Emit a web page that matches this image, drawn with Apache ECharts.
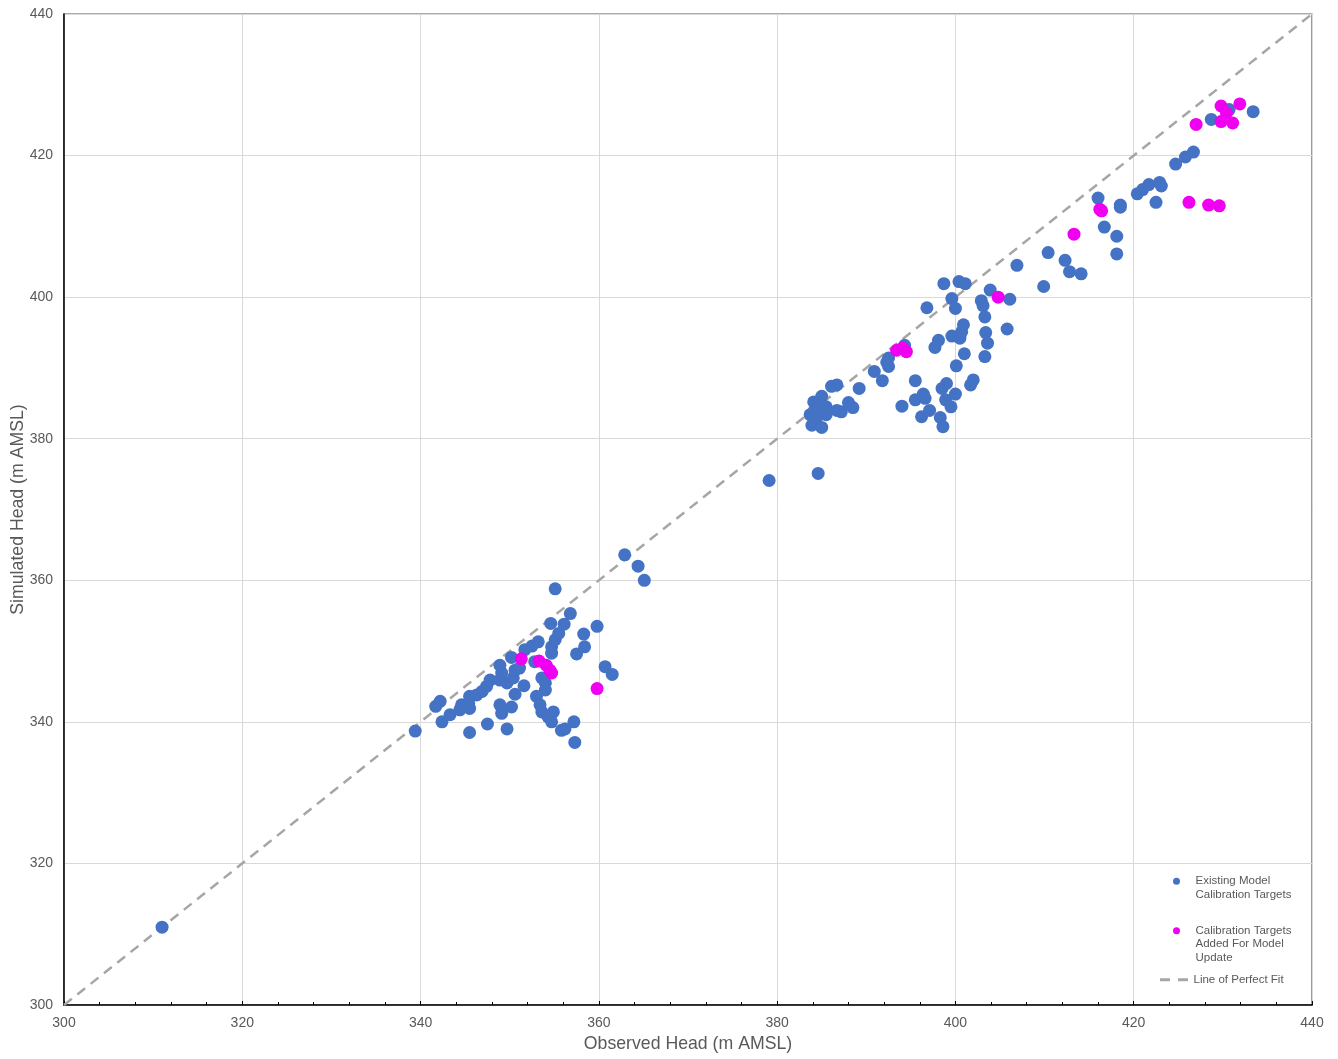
<!DOCTYPE html>
<html><head><meta charset="utf-8">
<script src="https://cdn.jsdelivr.net/npm/echarts@6/dist/echarts.min.js"></script>
<style>html,body{margin:0;padding:0;background:#fff}#c{width:1338px;height:1059px}</style>
</head><body><div id="c"></div>
<script>
const axisTicks = [300, 320, 340, 360, 380, 400, 420, 440];
const existingObs = [311.0,339.4,341.7,342.2,342.4,343.3,344.4,344.6,345.4,345.5,345.5,345.5,346.3,346.9,347.4,347.5,347.8,348.9,348.9,349.1,348.9,349.1,349.7,349.7,350.2,350.2,350.4,350.6,350.6,351.1,351.6,351.7,352.5,352.8,353.2,353.6,354.0,354.0,353.0,353.4,353.6,354.3,354.9,354.7,354.7,354.7,355.1,355.5,354.6,356.1,356.8,355.1,355.8,356.2,357.2,357.3,357.5,358.4,358.3,359.8,360.7,361.5,362.9,364.4,365.1,379.1,384.6,383.7,383.9,384.1,384.1,384.4,384.8,385.0,385.0,385.5,385.5,386.1,386.7,386.7,387.2,388.0,388.5,389.2,390.9,391.8,392.3,392.5,392.5,394.3,394.0,395.5,395.5,396.2,396.4,396.6,396.8,397.1,397.7,398.1,398.3,398.5,398.6,398.7,398.9,399.0,399.5,399.6,399.6,400.0,400.0,400.1,400.4,400.5,400.7,400.9,401.0,401.1,401.7,402.0,402.9,403.1,403.3,403.3,403.4,403.6,403.9,405.8,406.1,406.9,409.9,410.4,412.3,412.8,414.1,416.0,416.7,418.1,418.1,418.5,418.5,420.4,421.0,421.7,422.9,423.1,422.5,424.7,425.8,426.7,428.7,430.7,433.4];
const existingSim = [311.0,338.7,342.2,342.9,340.0,341.0,341.7,342.4,342.6,341.9,343.6,338.5,343.8,344.3,345.0,339.7,345.9,345.9,348.0,346.9,342.4,341.2,345.5,339.0,349.1,342.1,346.2,347.3,343.9,347.6,345.1,350.2,350.7,348.5,351.3,346.2,345.5,344.5,343.6,342.4,341.4,340.7,341.4,340.0,349.7,350.6,351.6,352.5,353.9,353.8,355.3,358.8,338.8,339.0,340.0,337.1,349.6,350.6,352.4,353.5,347.8,346.7,363.6,362.0,360.0,374.1,375.1,383.4,381.9,385.2,383.8,382.9,384.5,386.0,381.6,384.5,383.4,387.4,387.6,384.0,383.8,385.1,384.4,387.1,389.5,388.2,390.8,391.4,390.2,393.2,384.6,388.2,385.5,383.1,386.3,385.7,398.5,384.0,392.9,393.9,383.0,387.1,381.7,401.9,385.5,387.8,384.5,394.5,399.8,398.4,386.3,390.3,402.2,394.2,395.1,396.1,392.0,401.9,387.6,388.3,399.5,398.8,397.2,391.6,395.0,393.5,401.0,395.5,399.7,404.5,401.5,406.3,405.2,403.6,403.3,414.0,409.9,408.6,406.1,413.0,412.7,414.6,415.2,415.9,416.2,415.7,413.4,418.8,419.8,420.5,425.1,426.5,426.2];
const addedObs = [351.3,353.3,354.1,354.5,354.7,359.8,393.4,394.1,394.5,404.8,413.3,416.2,416.4,426.2,428.4,429.6,427.0,429.8,430.4,429.8,431.1,431.9];
const addedSim = [348.9,348.6,348.0,347.3,346.9,344.7,392.5,392.8,392.3,400.0,408.9,412.4,412.2,413.4,413.0,412.9,424.4,427.0,426.0,424.8,424.6,427.3];
const perfectFit = [[300, 300], [440, 440]];
const names = ['Existing Model\nCalibration Targets', 'Calibration Targets\nAdded For Model\nUpdate', 'Line of Perfect Fit'];

const pair = (xs, ys) => xs.map((x, i) => [x, ys[i]]);
const font = '"Liberation Sans", Arial, sans-serif';
const gray = '#595959';
const chart = echarts.init(document.getElementById('c'));
const legendText = { fontFamily: font, fontSize: 11.5, color: gray, lineHeight: 13.5 };
// leading blank lines keep the icon level with the first text line
const padLines = n => name => '\n'.repeat(n) + name;
chart.setOption({
  animation: false,
  backgroundColor: '#fff',
  grid: { left: 64, top: 14, right: 26, bottom: 54, outerBoundsMode: 'none', containLabel: false,
          show: true, borderColor: gray, borderWidth: 1.2 },
  legend: [
    { orient: 'vertical', left: 1173, top: 861, padding: 0, itemWidth: 28, itemHeight: 7,
      data: [{ name: names[0], icon: 'circle' }], formatter: padLines(1), textStyle: legendText },
    { orient: 'vertical', left: 1173, top: 897, padding: 0, itemWidth: 28, itemHeight: 7,
      data: [{ name: names[1], icon: 'circle' }], formatter: padLines(2), textStyle: legendText },
    { orient: 'vertical', left: 1160, top: 973, padding: 0, itemWidth: 29, itemHeight: 3,
      data: [{ name: names[2], icon: 'path://M0,0H10V3H0Z M18,0H28V3H18Z' }], textStyle: legendText }
  ],
  xAxis: {
    type: 'value', min: axisTicks[0], max: axisTicks[axisTicks.length - 1], interval: 20,
    name: 'Observed Head (m AMSL)', nameLocation: 'middle', nameGap: 30, nameMoveOverlap: false,
    nameTextStyle: { fontFamily: font, fontSize: 17.7, color: gray },
    axisLine: { lineStyle: { color: '#000', width: 1.5 } },
    axisTick: { show: true, inside: true, length: 4, lineStyle: { color: '#000' } },
    minorTick: { show: true, splitNumber: 5, length: 3, lineStyle: { color: '#000' } },
    axisLabel: { fontFamily: font, fontSize: 14, color: gray, margin: 11 },
    splitLine: { show: true, lineStyle: { color: '#d9d9d9', width: 1 } }
  },
  yAxis: {
    type: 'value', min: axisTicks[0], max: axisTicks[axisTicks.length - 1], interval: 20,
    name: 'Simulated Head (m AMSL)', nameLocation: 'middle', nameGap: 37, nameMoveOverlap: false,
    nameTextStyle: { fontFamily: font, fontSize: 17.7, color: gray },
    axisLine: { show: true, lineStyle: { color: '#000', width: 1.5 } },
    axisTick: { show: false },
    axisLabel: { fontFamily: font, fontSize: 14, color: gray, margin: 11 },
    splitLine: { show: true, lineStyle: { color: '#d9d9d9', width: 1 } }
  },
  series: [
    { name: names[2], type: 'line', data: perfectFit, showSymbol: false, symbol: 'none',
      lineStyle: { color: '#a6a6a6', width: 2.5, type: [10, 7] }, itemStyle: { color: '#a6a6a6' }, z: 1 },
    { name: names[0], type: 'scatter', data: pair(existingObs, existingSim), symbolSize: 13,
      itemStyle: { color: '#4472c4', opacity: 1 }, z: 2 },
    { name: names[1], type: 'scatter', data: pair(addedObs, addedSim), symbolSize: 13,
      itemStyle: { color: '#f000f0', opacity: 1 }, z: 3 }
  ]
});
</script></body></html>
